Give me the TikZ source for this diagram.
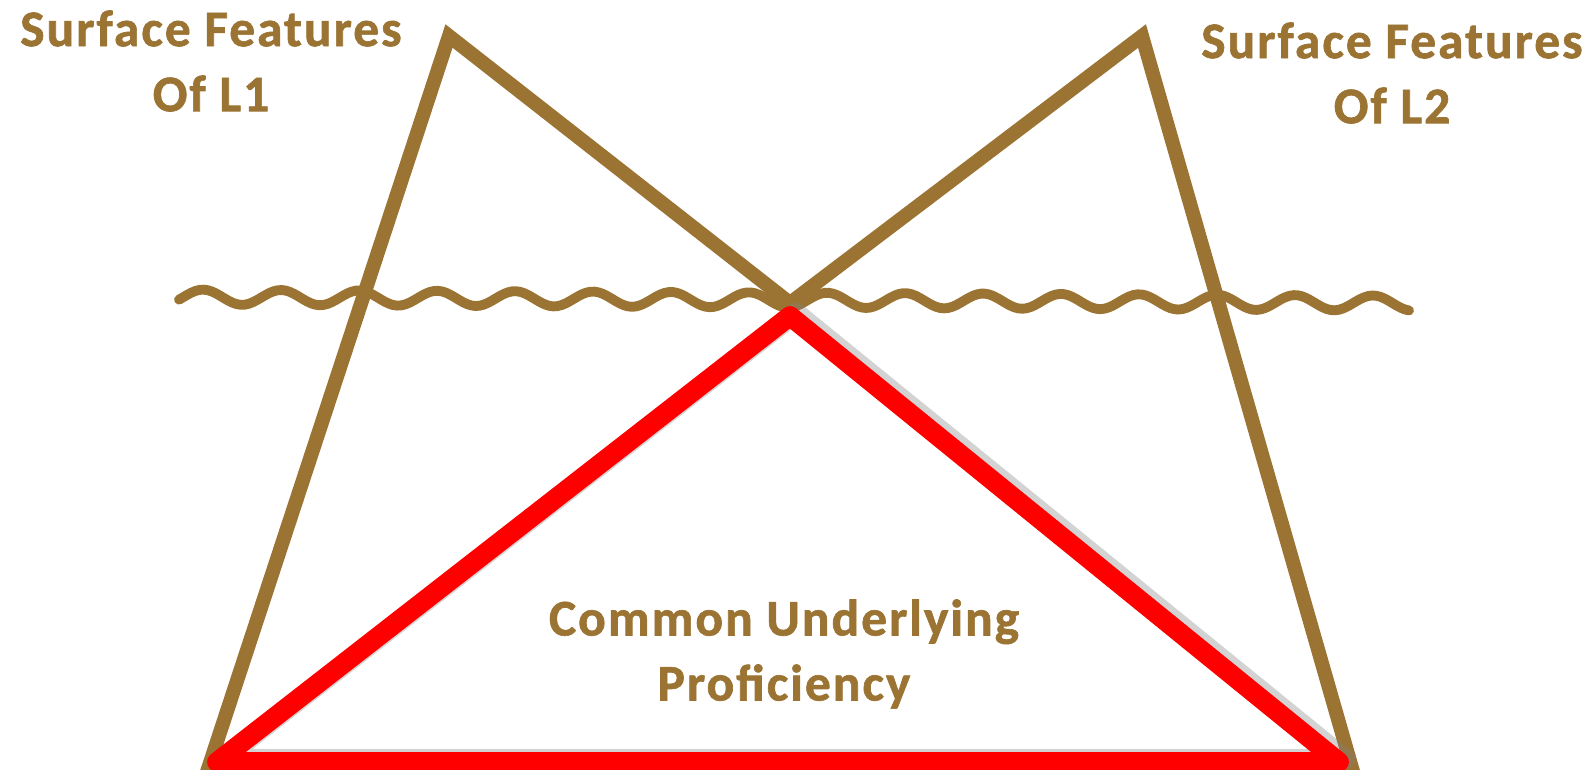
\documentclass[tikz,border=0pt]{standalone}
\usepackage{fontspec}
\setmainfont{Carlito}[LetterSpace=4, BoldFeatures={FakeBold=1.3}]
\definecolor{earth}{RGB}{155,116,52}
\definecolor{cupred}{RGB}{255,0,0}

\tikzset{
  surface/.style={draw=earth, line width=4pt, line join=miter},
  wave/.style={draw=earth, line width=2.8pt, line cap=round},
  cup/.style={draw=cupred, line width=5.6pt, line join=round, line cap=round},
  cupshadow/.style={draw=black!50, opacity=0.35, line width=5.8pt, line join=round},
  lbl/.style={text=earth, font=\fontsize{14.6}{18.5}\selectfont\bfseries, align=center, inner sep=0pt}
}

\begin{document}
\begin{tikzpicture}[x=0.01cm, y=-0.01cm]
\useasboundingbox (0,0) rectangle (1594,769);

\coordinate (apexA) at (449,36);
\coordinate (footA) at (206,775);
\coordinate (apexB) at (1142,36);
\coordinate (footB) at (1354,775);
\coordinate (meet) at (790,303);

\coordinate (cupTop) at (790,316);
\coordinate (cupLeft) at (217,762);
\coordinate (cupRight) at (1339,762);

% the two surface triangles
\draw[surface] (footA) -- (apexA) -- (meet);
\draw[surface] (footB) -- (apexB) -- (meet);

% waterline
\draw[wave] plot[domain=179:1409, samples=300] (\x, {297+0.005*(\x-178)-7.5*cos((\x-203)/78*360)});

% common underlying proficiency
\draw[cupshadow, transform canvas={shift={(6,-3)}}] (cupLeft) -- (cupTop) -- (cupRight) -- cycle;
\draw[cup] (cupLeft) -- (cupTop) -- (cupRight) -- cycle;

\node[lbl] (sfL1) at (211,61) {Surface Features\\Of L1};
\node[lbl] (sfL2) at (1392,73) {Surface Features\\Of L2};
\node[lbl] (cupText) at (784,654) {Common Underlying\\Proficiency};
\end{tikzpicture}
\end{document}
